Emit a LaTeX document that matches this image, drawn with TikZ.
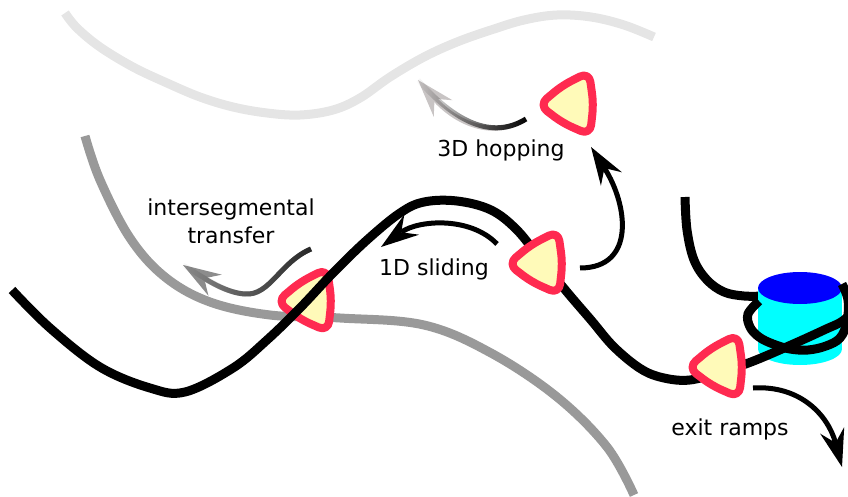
\documentclass[tikz,border=0pt]{standalone}
\usepackage{fontspec}
\setmainfont{DejaVu Sans}
\usetikzlibrary{arrows.meta,fadings}

\definecolor{protred}{RGB}{255,42,80}
\definecolor{protfill}{RGB}{255,250,185}
\definecolor{farstrand}{RGB}{229,229,229}
\definecolor{nearstrand}{RGB}{153,153,153}
\definecolor{hopgray}{RGB}{200,196,196}
\definecolor{jumpgray}{RGB}{140,140,140}
\definecolor{histone}{RGB}{0,255,255}
\definecolor{histonetop}{RGB}{0,0,255}

\tikzstyle{proteinline}=[draw=protred, fill=protfill, line width=8pt, rounded corners=10pt, line join=round]
\tikzstyle{dna}=[line width=9pt]
\tikzstyle{move}=[line width=5pt, -{Stealth[length=38pt, width=25pt, inset=13pt, line width=0pt]}]
\tikzstyle{label}=[font=\fontsize{22}{28}\selectfont, align=center, inner sep=0pt]
\tikzset{protein/.pic={
  \coordinate (-c) at (0,0);
  \draw[proteinline] (-10.9,-18.4) -- (16,-32) -- (20.5,0) -- (17,31) -- (-10.3,19) -- (-34,1) -- cycle;
}}

\tikzfading[name=fade in right, left color=transparent!100, right color=transparent!0]

\begin{document}
\begin{tikzpicture}[x=1pt, y=-1pt]
                \useasboundingbox (0,0) rectangle (848,497);
                % strands in the background
                \draw[dna, farstrand] plot[smooth, tension=0.6] coordinates {(65,13) (77,28) (100,47) (133,67) (167,83) (200,97) (233,107) (267,113) (300,115) (333,110) (360,98) (390,77) (424,57) (457,42) (491,30) (524,20) (557,15) (591,17) (624,25) (654,37)};
                \draw[dna, nearstrand] plot[smooth, tension=0.6] coordinates {(85,136) (100,180) (130,238) (165,277) (210,302) (270,315) (340,318) (424,325) (491,353) (557,397) (607,447) (634,495)};

                \coordinate (hop tail) at (526,119);
                \coordinate (hop tip) at (418,80);
                \coordinate (jump tail) at (311,249);
                \coordinate (jump tip) at (183,265);
                \draw[move, hopgray] (hop tail) .. controls (492,140) and (455,122) .. (hop tip);
                \draw[line width=5pt, path fading=fade in right] (hop tail) .. controls (492,140) and (455,122) .. (hop tip);
                \draw[move, jumpgray] (jump tail) .. controls (280,262) and (270,296) .. (245,294) .. controls (228,293) and (210,282) .. (jump tip);
                \draw[line width=5pt, black!85, path fading=fade in right] (jump tail) .. controls (280,262) and (270,296) .. (245,294) .. controls (228,293) and (210,282) .. (jump tip);

                \pic (jumper) at (311,300.5) {protein};

                % nucleosome
                \draw[dna] plot[smooth, tension=0.6] coordinates {(685,197) (687,230) (694,260) (707,280) (724,292) (744,296) (764,296)};
                \fill[histone] (758,288) rectangle (842,349);
                \fill[histone] (800,349) ellipse [x radius=42, y radius=16];
                \fill[histonetop] (800,288) ellipse [x radius=42, y radius=16];
                \draw[dna] plot[smooth, tension=0.6] coordinates {(759,301) (748,314) (750,327) (759,337) (773,344) (790,349) (808,350) (826,346) (840,338) (847,322) (848,300) (842,284)};

                % main strand
                \draw[dna] plot[smooth, tension=0.6] coordinates {(12,290) (50,328) (100,367) (150,388) (185,392) (233,368) (267,340) (300,308) (333,273) (367,240) (400,213) (424,202) (457,201) (491,210) (517,230) (541,260) (567,292) (591,320) (614,347) (641,369) (664,378) (690,380) (720,372) (751,362) (791,345) (824,330) (844,320) (856,305)};

                \pic (slider) at (542,263) {protein};
                \pic (leaver) at (722,366.5) {protein};
                \pic (hopper) at (573,104) {protein};

                \coordinate (slide tail) at (497,244);
                \coordinate (slide tip) at (381,247);
                \coordinate (lift tail) at (580,268);
                \coordinate (lift tip) at (591,147);
                \coordinate (exit tail) at (753,388);
                \coordinate (exit tip) at (842,467);
                \draw[move] (slide tail) .. controls (470,216) and (418,220) .. (slide tip);
                \draw[move] (lift tail) .. controls (636,268) and (628,205) .. (lift tip);
                \draw[move] (exit tail) .. controls (800,385) and (828,415) .. (exit tip);

                \node[label, anchor=base] (hoplabel) at (501,157) {3D hopping};
                \node[label, anchor=north] (jumplabel) at (231,198.3) {intersegmental\\transfer};
                \node[label, anchor=base] (slidelabel) at (434,275) {1D sliding};
                \node[label, anchor=base] (exitlabel) at (730,435) {exit ramps};
            \end{tikzpicture}
\end{document}
